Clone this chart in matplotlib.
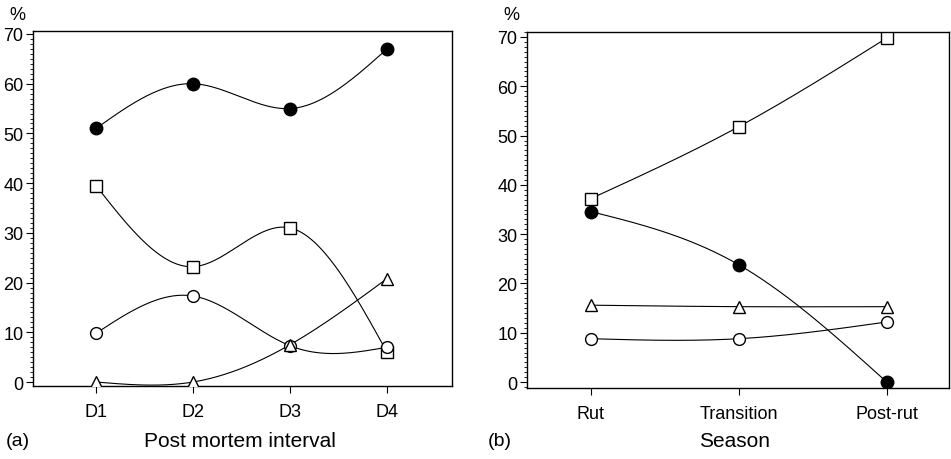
import matplotlib
matplotlib.use("Agg")
import matplotlib.pyplot as plt
from matplotlib.ticker import MultipleLocator
import numpy as np

plt.rcParams['font.family'] = ['Liberation Sans', 'DejaVu Sans']

# panel (a): post mortem interval
pmi_labels = ["D1", "D2", "D3", "D4"]
pmi_filled = [51.0, 60.0, 55.0, 67.0]
pmi_square = [39.5, 23.2, 31.0, 6.0]
pmi_circle = [9.8, 17.3, 7.3, 7.0]
pmi_triangle = [0.0, 0.0, 7.5, 20.8]

# panel (b): season
season_labels = ["Rut", "Transition", "Post-rut"]
sea_square = [37.2, 51.8, 69.8]
sea_filled = [34.6, 23.8, 0.0]
sea_triangle = [15.6, 15.3, 15.3]
sea_circle = [8.8, 8.8, 12.2]


def natural_spline(x, y, n=200):
    # plain natural cubic spline, only for drawing the smooth joins
    x = np.asarray(x, float)
    y = np.asarray(y, float)
    k = len(x)
    h = np.diff(x)
    A = np.zeros((k, k))
    b = np.zeros(k)
    A[0, 0] = 1
    A[-1, -1] = 1
    for i in range(1, k - 1):
        A[i, i - 1] = h[i - 1]
        A[i, i] = 2 * (h[i - 1] + h[i])
        A[i, i + 1] = h[i]
        b[i] = 6 * ((y[i + 1] - y[i]) / h[i] - (y[i] - y[i - 1]) / h[i - 1])
    M = np.linalg.solve(A, b)
    xs = np.linspace(x[0], x[-1], n)
    ys = np.empty_like(xs)
    for j, t in enumerate(xs):
        i = min(np.searchsorted(x, t, side='right') - 1, k - 2)
        hi = h[i]
        a = (x[i + 1] - t) / hi
        c = (t - x[i]) / hi
        ys[j] = (a * y[i] + c * y[i + 1]
                 + ((a ** 3 - a) * M[i] + (c ** 3 - c) * M[i + 1]) * hi ** 2 / 6)
    return xs, ys


def draw_series(ax, x, y, marker, filled):
    xs, ys = natural_spline(x, y)
    ax.plot(xs, ys, color='black', lw=0.8, zorder=2)
    ax.plot(x, y, linestyle='none', marker=marker,
            markersize=9 if filled else 8.5,
            markerfacecolor='black' if filled else 'white',
            markeredgecolor='black', markeredgewidth=1.0, zorder=3)


def style_axis(ax, labels):
    ax.set_ylim(-0.8, 70.6)
    ax.set_yticks(range(0, 71, 10))
    ax.yaxis.set_minor_locator(MultipleLocator(1))
    ax.set_xticks(range(len(labels)) if labels is season_labels else range(1, len(labels) + 1))
    ax.set_xticklabels(labels)
    ax.tick_params(axis='both', which='major', direction='out', length=5, width=0.8,
                   labelsize=13)
    ax.tick_params(axis='y', which='major', pad=2)
    ax.tick_params(axis='x', which='major', pad=7)
    ax.tick_params(axis='y', which='minor', direction='out', length=2.5, width=0.6)
    ax.tick_params(axis='x', which='minor', bottom=False)
    for s in ax.spines.values():
        s.set_linewidth(1.0)


fig = plt.figure(figsize=(9.51, 4.6), dpi=100)

ax1 = fig.add_axes([0.0347, 0.1587, 0.4406, 0.7717])
xa = np.arange(1, len(pmi_labels) + 1)
draw_series(ax1, xa, pmi_filled, 'o', True)
draw_series(ax1, xa, pmi_square, 's', False)
draw_series(ax1, xa, pmi_circle, 'o', False)
draw_series(ax1, xa, pmi_triangle, '^', False)
style_axis(ax1, pmi_labels)
ax1.set_xlim(0.35, 4.67)

ax2 = fig.add_axes([0.5542, 0.1543, 0.4437, 0.7739])
xb = np.arange(len(season_labels))
draw_series(ax2, xb, sea_square, 's', False)
draw_series(ax2, xb, sea_filled, 'o', True)
draw_series(ax2, xb, sea_triangle, '^', False)
draw_series(ax2, xb, sea_circle, 'o', False)
style_axis(ax2, season_labels)
ax2.set_ylim(-1.2, 71.0)
ax2.set_xlim(-0.43, 2.42)

fig.text(17 / 951, 1 - 16 / 460, "%", fontsize=13, ha='center', va='center')
fig.text(511 / 951, 1 - 16 / 460, "%", fontsize=13, ha='center', va='center')
fig.text(6 / 951, 1 - 442 / 460, "(a)", fontsize=14, ha='left', va='center')
fig.text(488 / 951, 1 - 442 / 460, "(b)", fontsize=14, ha='left', va='center')
fig.text(240 / 951, 1 - 442 / 460, "Post mortem interval", fontsize=15, ha='center', va='center')
fig.text(735 / 951, 1 - 442 / 460, "Season", fontsize=15, ha='center', va='center')

fig.savefig("out.png", dpi=100)
